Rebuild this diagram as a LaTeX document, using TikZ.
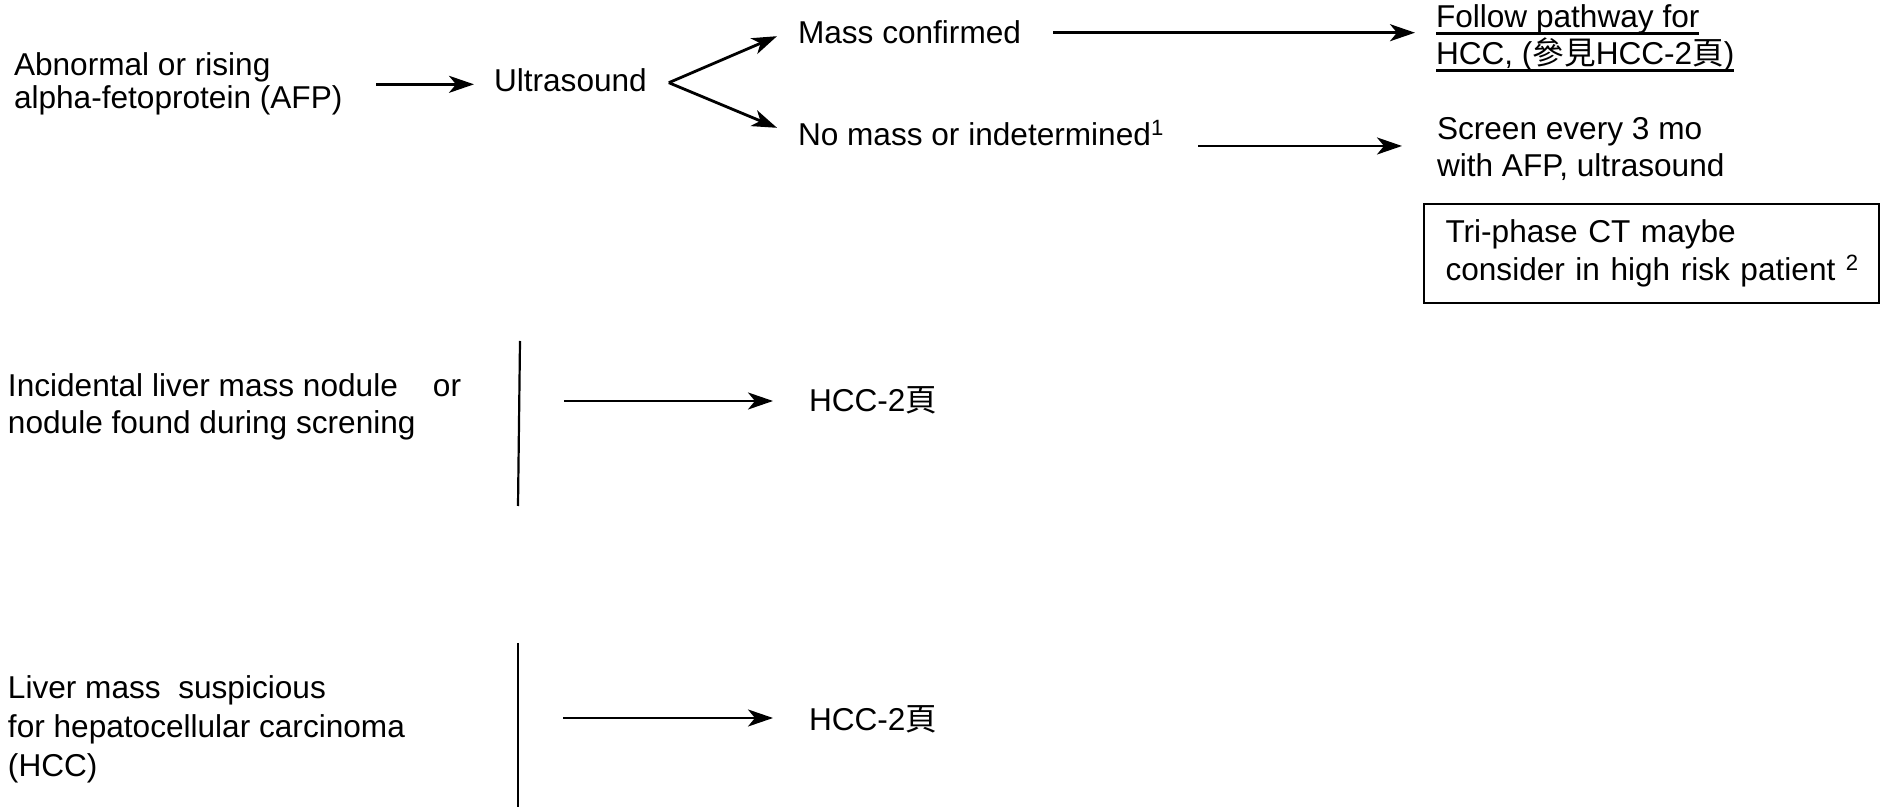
\documentclass[tikz,border=0pt]{standalone}
\usepackage{fontspec}
\setmainfont{Liberation Sans}
\newfontfamily\cjk{Noto Sans CJK TC}
\usetikzlibrary{arrows.meta,calc}
% underline at a fixed depth below the baseline
\newsavebox\ulbox
\newcommand\ulined[1]{\sbox\ulbox{#1}\rlap{\rule[-3.3pt]{\wd\ulbox}{1.1pt}}\usebox\ulbox}
\tikzset{
  txt/.style={inner sep=0pt, outer sep=0pt, anchor=base west, align=left},
  arr/.style={-{Stealth[length=12.5pt,width=8.5pt,inset=3.5pt]}, line width=1.4pt},
  bar/.style={line width=1.1pt},
}
\begin{document}
\begin{tikzpicture}[x=0.5pt, y=-0.5pt, font=\fontsize{15.8pt}{18.5pt}\selectfont]
\useasboundingbox (0,0) rectangle (1881,807);

% first pathway: AFP screening (multi-line nodes sit on their last baseline)
\node[txt, font=\fontsize{15.8pt}{16.5pt}\selectfont] (afp) at (14,109)
  {Abnormal or rising\\alpha-fetoprotein (AFP)};
\node[txt] (ultra) at (494,92) {Ultrasound};
\node[txt] (mass) at (798,44) {Mass confirmed};
\node[txt] (nomass) at (798,146) {No mass or indetermined\textsuperscript{1}};
\node[txt] (follow) at (1436,65)
  {\ulined{Follow pathway for}\\\ulined{HCC, ({\cjk 參見}HCC-2{\cjk 頁})}};
\node[txt] (screen) at (1437,177) {Screen every 3 mo\\with AFP, ultrasound};
\node[draw, line width=0.9pt, outer sep=0pt, anchor=north west,
      minimum width=227.5pt, minimum height=49.5pt, text width=206pt,
      inner xsep=10.75pt, align=left, font=\fontsize{15.8pt}{19pt}\selectfont]
  (ctbox) at (1424,204)
  {\mbox{Tri-phase CT maybe}\\\mbox{consider in high risk patient \textsuperscript{2}}};

\draw[arr, shorten <=17pt, shorten >=10pt] (afp.east) -- (afp.east -| ultra.west);
\coordinate (fork) at ($(ultra.east)+(22,2)$);
\draw[arr] (fork) -- ($(mass.west)+(-21,3.5)$);
\draw[arr] (fork) -- ($(nomass.west)+(-21,-5.5)$);
\draw[arr, shorten <=16pt, shorten >=10.5pt] (mass.east) -- (mass.east -| follow.west);
\draw[arr, shorten <=17pt, shorten >=17.5pt]
  ([yshift=1.75pt]screen.west -| nomass.east) -- ([yshift=1.75pt]screen.west);

% second pathway: incidental nodule
\node[txt] (inc) at (8,434)
  {Incidental liver mass nodule \ \ \ or\\nodule found during screning};
\draw[bar] (520,341) -- (518,506);
\coordinate (barA) at (519,401);
\node[txt] (hccA) at (809,412) {HCC-2{\cjk 頁}};
\draw[arr, shorten <=22.5pt, shorten >=18pt] (barA) -- (barA -| hccA.west);

% third pathway: suspicious liver mass
\node[txt, font=\fontsize{15.8pt}{19.5pt}\selectfont] (liv) at (8,776)
  {Liver mass \ suspicious\\for hepatocellular carcinoma\\(HCC)};
\draw[bar] (518,643) -- (518,807);
\coordinate (barB) at (518,718);
\node[txt] (hccB) at (809,730) {HCC-2{\cjk 頁}};
\draw[arr, shorten <=22.5pt, shorten >=18pt] (barB) -- (barB -| hccB.west);
\end{tikzpicture}
\end{document}
